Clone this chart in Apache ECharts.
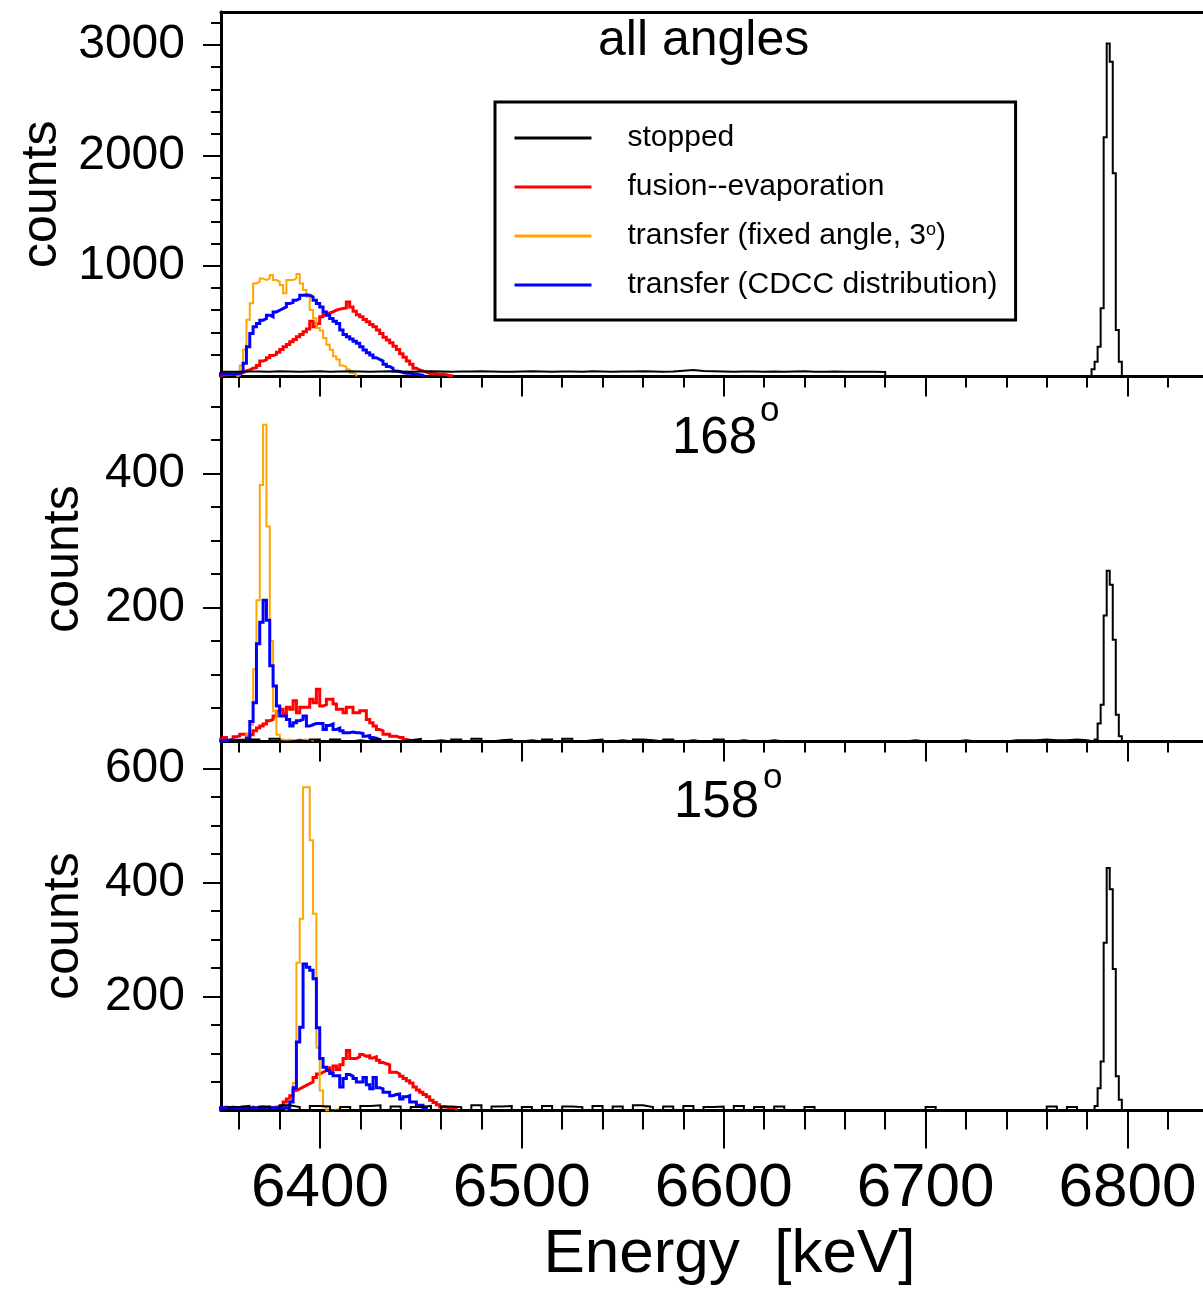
<!DOCTYPE html>
<html>
<head>
<meta charset="utf-8">
<script src="https://cdn.jsdelivr.net/npm/echarts@6/dist/echarts.min.js"></script>
<style>
  html, body { margin: 0; padding: 0; background: #ffffff; }
  #chart { width: 1203px; height: 1291px; }
</style>
</head>
<body>
<div id="chart"></div>
<script>
// ---- binning (keV) ----
const BIN_WIDTH = 1.65;        // transfer / fusion histograms
const BIN_START = 6350.4;
const PEAK_BIN_WIDTH = 1.5;    // stopped peak
const PEAK_BIN_START = 6782.2;
const LOW_BIN_WIDTH = 5;       // stopped low-energy tail
const LOW_BIN_START = 6350;

const seriesNames = ['stopped', 'fusion--evaporation', 'transfer (fixed angle, 3°)', 'transfer (CDCC distribution)'];
const seriesColors = ['#000000', '#ff0000', '#ffa500', '#0000ff'];
const seriesWidths = [2, 3, 2, 3];

const panelTitles = ['all angles', '168', '158'];
const degreeMark = 'o';

// ---- axes ----
const energyMin = 6351;
const energyMax = 6837.4;
const energyMajorTicks = [6400, 6500, 6600, 6700, 6800];
const energyMinorTicks = [6360, 6380, 6420, 6440, 6460, 6480, 6520, 6540, 6560, 6580,
                          6620, 6640, 6660, 6680, 6720, 6740, 6760, 6780, 6820];
const countsMax = [3300, 545, 647];
const countsMajorTicks = [[1000, 2000, 3000], [200, 400], [200, 400, 600]];
const countsMinorTicks = [
  [200, 400, 600, 800, 1200, 1400, 1600, 1800, 2200, 2400, 2600, 2800, 3200],
  [50, 100, 150, 250, 300, 350, 450, 500],
  [50, 100, 150, 250, 300, 350, 450, 500, 550]
];

// ---- all angles ----
const allStoppedLow = [
  42,44,45,46,44,47,45,43,46,48,44,45,47,46,44,45,48,46,43,45,
  47,46,44,45,46,48,45,43,44,46,47,45,44,46,45,43,47,46,44,45,
  46,48,45,44,46,52,58,50,47,45,44,46,45,43,46,44,45,47,44,43,
  45,44,42,44,43,40,
  0,0,0,0,0,0,0,0,0,0,0,0,0,0,0,0,0,0,0,0
];
const allStoppedPeak = [65, 134, 270, 617, 2165, 3015, 2849, 1839, 421, 134];
const allFusion = [
  15,15,18,20,20,25,35,50,60,75,80,100,140,150,170,190,200,220,245,270,
  290,315,335,360,380,405,430,500,450,480,540,560,575,585,600,610,615,620,675,630,
  590,560,540,515,495,470,450,420,390,355,330,305,275,245,205,175,140,110,75,60,
  50,40,30,25,25,20,20,15,10,5
];
const allFixed = [
  0,0,0,0,0,10,100,243,513,663,843,858,888,873,888,918,873,858,828,753,
  873,873,888,927,843,783,723,603,528,438,417,348,288,243,183,153,99,87,63,33,
  18
];
const allCdcc = [
  25,25,25,22,25,25,40,120,270,390,450,480,510,525,555,540,585,600,615,630,
  660,670,690,705,735,738,735,720,690,660,630,585,555,525,500,480,420,380,360,340,
  320,300,270,240,215,195,170,155,140,110,90,75,50,45,35,30,30,25,20,15,
  10
];

// ---- 168 deg ----
const s168StoppedLow = [
  0,2,0,3,0,4,0,2,0,3, 0,3,0,2,0,3,0,0,2,4, 0,2,0,3,0,4,0,2,3,0,
  2,0,3,0,4,0,2,3,0,2, 0,3,2,0,3,0,2,0,0,3, 0,2,0,0,2,0,0,0,0,0,
  0,0,0,0,0,0,0,0,2,0, 0,0,0,2,0,0,0,0,2,2, 2,3,2,2,3,2
];
const s168StoppedPeak = [0, 3, 27, 55, 188, 255, 234, 152, 40, 8];
const s168Fusion = [
  3,6,2,4,7,8,11,11,6,10, 16,20,23,26,31,33,38,45,48,41,
  51,48,61,43,51,51,51,63,58,78, 53,55,63,63,56,48,48,43,51,51,
  43,43,46,46,33,28,23,18,16,11, 11,8,8,6,6,3,2
];
const s168Fixed = [
  0,0,0,0,0,0,0,3,12,25, 108,211,383,473,321,150,45,10,3,2,
  3,2,2,3,2,3,2,2
];
const s168Cdcc = [
  2,2,2,2,2,2,2,2,5,30, 58,146,178,211,181,113,83,53,38,38,
  33,23,28,31,33,38,23,25,27,27, 27,18,24,26,18,20,16,13,13,14,
  13,13,12,8,9,6,5,3
];

// ---- 158 deg ----
const s158StoppedLow = [
  0,6,8,0,7,0,9,6,0,8, 7,0,6,0,8,9,0,7,0,6, 8,0,7,6,0,9,0,7,8,0,
  6,0,8,0,7,6,0,8,0,7, 0,9,6,0,7,0,8,0,6,7, 0,8,0,6,0,7,0,0,6,0,
  0,0,0,0,0,0,0,0,0,0, 6,0,0,0,0,0,0,0,0,0, 0,0,7,0,6,0
];
const s158StoppedPeak = [0, 8, 39, 86, 294, 425, 388, 248, 60, 19];
const s158Fusion = [
  5,6,5,6,5,5,6,5,5,6, 5,5,6,5,6,5,6,6,9,15,
  20,26,35,38,41,44,47,50,58,64, 67,70,75,68,78,72,80,91,105,91,
  91,94,98,95,96,92,94,88,84,82, 80,67,67,64,60,56,52,48,41,36,
  32,28,24,18,14,10,6,6,5,5, 3
];
const s158Fixed = [
  0,0,0,0,0,0,0,0,0,0, 0,0,0,0,0,0,0,0,0,0,
  5,18,48,259,336,567,567,474,345,110, 35,6,0,0,2,3
];
const s158Cdcc = [
  5,5,5,5,5,5,5,5,5,5, 5,5,5,5,5,5,5,5,5,5,
  5,15,40,120,146,257,251,246,231,145, 91,76,70,65,61,61,41,56,63,60,
  56,50,50,58,45,38,58,40,38,32, 32,26,28,29,20,24,26,15,15,9,
  9,5
];

// Build a step outline from bin counts; leading/trailing empty bins are left out.
function histogram(start, width, counts) {
  let first = counts.findIndex(c => c > 0);
  if (first < 0) return [];
  let last = counts.length - 1;
  while (counts[last] <= 0) last--;
  const pts = [[start + first * width, 0]];
  for (let i = first; i <= last; i++) pts.push([start + i * width, counts[i]]);
  pts.push([start + (last + 1) * width, 0]);
  return pts;
}

const panels = [
  { low: allStoppedLow, peak: allStoppedPeak, fusion: allFusion, fixed: allFixed, cdcc: allCdcc },
  { low: s168StoppedLow, peak: s168StoppedPeak, fusion: s168Fusion, fixed: s168Fixed, cdcc: s168Cdcc },
  { low: s158StoppedLow, peak: s158StoppedPeak, fusion: s158Fusion, fixed: s158Fixed, cdcc: s158Cdcc }
];

const FONT = 'Liberation Sans';
const plainNumber = v => String(v);
const gridBoxes = [
  { left: 221, right: 0, top: 12, height: 364.5 },
  { left: 221, right: 0, top: 376.5, height: 365 },
  { left: 221, right: 0, top: 741.5, height: 369 }
];

const grid = gridBoxes.map(b => Object.assign({ show: false, containLabel: false }, b));

const xAxis = [];
const yAxis = [];
const series = [];
const axisLine = { show: true, onZero: false, lineStyle: { color: '#000', width: 3 } };

gridBoxes.forEach((b, p) => {
  const isBottom = p === 2;
  // minor energy ticks
  xAxis.push({
    gridIndex: p, type: 'value', position: 'bottom', min: energyMin, max: energyMax,
    axisLine, splitLine: { show: false },
    axisTick: { show: true, customValues: energyMinorTicks, length: isBottom ? 19 : 11, lineStyle: { color: '#000', width: 2 } },
    axisLabel: { show: false }
  });
  // major energy ticks (+ labels on the lowest panel)
  xAxis.push({
    gridIndex: p, type: 'value', position: 'bottom', min: energyMin, max: energyMax,
    axisLine, splitLine: { show: false },
    axisTick: { show: true, customValues: energyMajorTicks, length: isBottom ? 38 : 20, lineStyle: { color: '#000', width: 2 } },
    axisLabel: isBottom
      ? { show: true, customValues: energyMajorTicks, formatter: plainNumber, margin: 47, fontSize: 62, color: '#000', fontFamily: FONT }
      : { show: false },
    name: isBottom ? 'Energy  [keV]' : '',
    nameLocation: 'middle', nameGap: 113,
    nameTextStyle: { fontSize: 62, color: '#000', fontFamily: FONT, padding: [0, 0, 0, 35] }
  });
  // minor count ticks
  yAxis.push({
    gridIndex: p, type: 'value', position: 'left', min: 0, max: countsMax[p],
    axisLine, splitLine: { show: false },
    axisTick: { show: true, customValues: countsMinorTicks[p], length: 10, lineStyle: { color: '#000', width: 2 } },
    axisLabel: { show: false }
  });
  // major count ticks + labels
  yAxis.push({
    gridIndex: p, type: 'value', position: 'left', min: 0, max: countsMax[p],
    axisLine, splitLine: { show: false },
    axisTick: { show: true, customValues: countsMajorTicks[p], length: 18, lineStyle: { color: '#000', width: 2 } },
    axisLabel: { show: true, customValues: countsMajorTicks[p], formatter: plainNumber, margin: 36, fontSize: 48, color: '#000', fontFamily: FONT },
    name: 'counts', nameLocation: 'middle', nameGap: p === 0 ? 152 : 132,
    nameTextStyle: { fontSize: 50, color: '#000', fontFamily: FONT }
  });

  const d = panels[p];
  const stoppedData = histogram(LOW_BIN_START, LOW_BIN_WIDTH, d.low)
    .concat(histogram(PEAK_BIN_START, PEAK_BIN_WIDTH, d.peak));
  const dataSets = [
    stoppedData,
    histogram(BIN_START, BIN_WIDTH, d.fusion),
    histogram(BIN_START, BIN_WIDTH, d.fixed),
    histogram(BIN_START, BIN_WIDTH, d.cdcc)
  ];
  const drawOrder = [1, 2, 3, 0];
  drawOrder.forEach((s, rank) => {
    series.push({
      type: 'line', name: seriesNames[s], xAxisIndex: 2 * p, yAxisIndex: 2 * p,
      data: dataSets[s], step: 'end', symbol: 'none', showSymbol: false,
      lineStyle: { color: seriesColors[s], width: seriesWidths[s], join: 'miter', cap: 'butt' },
      itemStyle: { color: seriesColors[s] },
      z: 3 + rank, silent: true, animation: false
    });
  });
});

// frame line along the top of the upper panel
xAxis.push({
  gridIndex: 0, type: 'value', position: 'top', min: energyMin, max: energyMax,
  axisLine, axisTick: { show: false }, axisLabel: { show: false }, splitLine: { show: false }
});

const titleStyle = (text, size) => ({ text, fontSize: size, fontFamily: FONT, fill: '#000', align: 'left', verticalAlign: 'middle' });
const graphic = [
  { type: 'text', x: 598, y: 41, style: titleStyle(panelTitles[0], 50) },
  { type: 'text', x: 672, y: 439, style: titleStyle(panelTitles[1], 51) },
  { type: 'text', x: 760, y: 411, style: titleStyle(degreeMark, 35) },
  { type: 'text', x: 674, y: 803, style: titleStyle(panelTitles[2], 51) },
  { type: 'text', x: 763, y: 778, style: titleStyle(degreeMark, 35) }
];

const chart = echarts.init(document.getElementById('chart'), null, { renderer: 'canvas' });
chart.setOption({
  animation: false,
  backgroundColor: '#ffffff',
  textStyle: { fontFamily: FONT },
  grid, xAxis, yAxis, series, graphic,
  legend: {
    data: seriesNames,
    orient: 'vertical', left: 495, top: 102,
    padding: [21, 18, 20, 18], itemGap: 19,
    itemWidth: 77, itemHeight: 2,
    borderColor: '#000', borderWidth: 3,
    selectedMode: false,
    lineStyle: { width: 3 },
    formatter: name => name.replace('3°', '3{deg|o}'),
    textStyle: {
      fontSize: 30, color: '#000', fontFamily: FONT, lineHeight: 30, padding: [0, 0, 0, 31],
      rich: { deg: { fontSize: 18, lineHeight: 22, verticalAlign: 'top', color: '#000', fontFamily: FONT } }
    }
  }
});
</script>
</body>
</html>
